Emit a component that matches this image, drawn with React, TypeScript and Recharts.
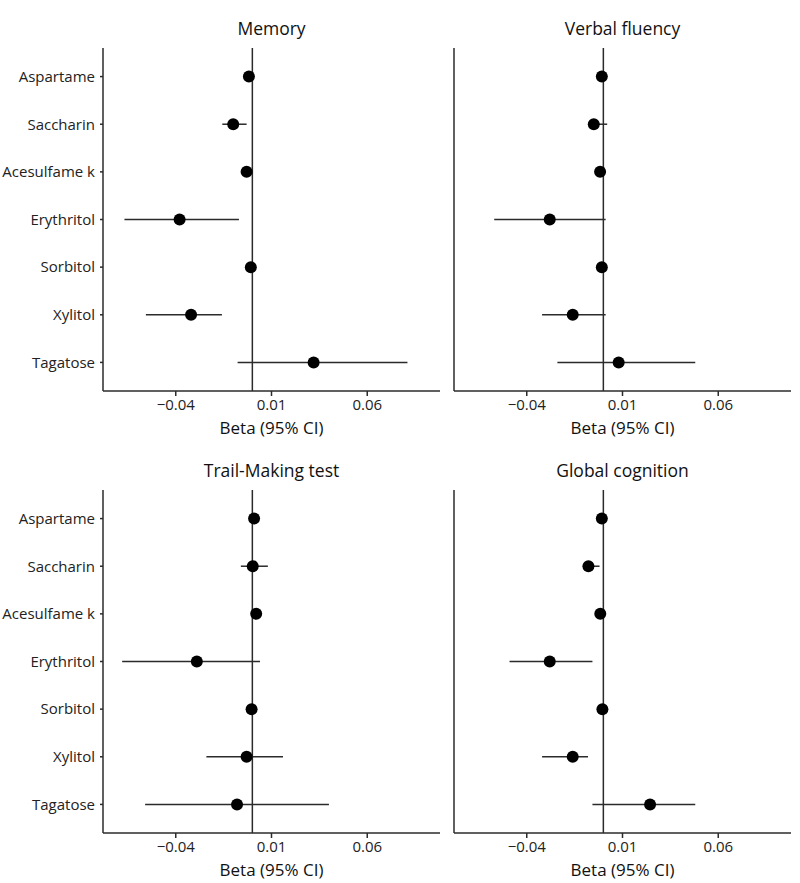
import {
  ComposedChart,
  Scatter,
  ErrorBar,
  XAxis,
  YAxis,
  ReferenceLine,
} from 'recharts';

const sweeteners = ['Aspartame', 'Saccharin', 'Acesulfame k', 'Erythritol', 'Sorbitol', 'Xylitol', 'Tagatose'];
const xTicks = [-0.04, 0.01, 0.06];

const memoryBeta = [-0.0018, -0.010, -0.003, -0.038, -0.0008, -0.032, 0.032];
const memoryLow = [-0.003, -0.0157, -0.0045, -0.0668, -0.002, -0.0556, -0.0077];
const memoryHigh = [-0.0006, -0.003, -0.0015, -0.007, 0.0004, -0.0159, 0.081];

const verbalBeta = [-0.0008, -0.005, -0.0017, -0.028, -0.0008, -0.016, 0.008];
const verbalLow = [-0.002, -0.008, -0.003, -0.057, -0.002, -0.032, -0.024];
const verbalHigh = [0.0004, 0.002, -0.0005, 0.0012, 0.0004, 0.0012, 0.048];

const trailBeta = [0.0009, 0.0002, 0.002, -0.029, -0.0004, -0.003, -0.008];
const trailLow = [-0.0005, -0.006, 0.0005, -0.068, -0.0017, -0.024, -0.056];
const trailHigh = [0.0023, 0.0081, 0.0035, 0.004, 0.001, 0.016, 0.04];

const globalBeta = [-0.0008, -0.0078, -0.0016, -0.028, -0.0005, -0.016, 0.0244];
const globalLow = [-0.002, -0.010, -0.003, -0.049, -0.0017, -0.032, -0.0057];
const globalHigh = [0.0004, -0.002, -0.0004, -0.0057, 0.0007, -0.008, 0.048];

const FONT = '"Open Sans", "Noto Sans", sans-serif';
const INK = '#2b2b2b';

function buildRows(beta: number[], low: number[], high: number[]) {
  return sweeteners.map((name, i) => ({
    name,
    pos: i + 1,
    beta: beta[i],
    err: [beta[i] - low[i], high[i] - beta[i]],
  }));
}

const fmt = (v: number) => (v < 0 ? '\u2212' + Math.abs(v).toFixed(2) : v.toFixed(2));

const Dot = (props: any) => <circle cx={props.cx} cy={props.cy} r={6} fill="#000" />;

function Panel({ title, rows, left, top, showLabels }: any) {
  const width = showLabels ? 450 : 350;
  const yWidth = showLabels ? 103 : 4;
  const right = showLabels ? 10 : 9;
  return (
    <div style={{ position: 'absolute', left, top, width, height: 441 }}>
      <div
        style={{
          position: 'absolute',
          left: yWidth,
          width: width - yWidth - right,
          top: 18,
          textAlign: 'center',
          fontFamily: FONT,
          fontSize: 17.5,
          color: '#111',
          lineHeight: '20px',
        }}
      >
        {title}
      </div>
      <ComposedChart
        width={width}
        height={441}
        data={rows}
        margin={{ top: 48, right, bottom: 0, left: 0 }}
      >
        <XAxis
          type="number"
          dataKey="beta"
          domain={[-0.078, 0.098]}
          ticks={xTicks}
          allowDataOverflow
          tickFormatter={fmt}
          height={50}
          tickSize={5}
          tickMargin={3}
          stroke={INK}
          strokeWidth={1.5}
          tick={{ fill: '#222', fontSize: 15, fontFamily: FONT }}
          label={{
            value: 'Beta (95% CI)',
            position: 'insideBottom',
            offset: 7,
            fill: '#111',
            fontSize: 17,
            fontFamily: FONT,
          }}
        />
        <YAxis
          type="number"
          dataKey="pos"
          domain={[0.4, 7.6]}
          ticks={[1, 2, 3, 4, 5, 6, 7]}
          reversed
          width={yWidth}
          stroke={INK}
          strokeWidth={1.5}
          tickSize={3}
          tickLine={showLabels}
          tickMargin={5}
          tickFormatter={(v: number) => sweeteners[v - 1]}
          tick={showLabels ? { fill: '#222', fontSize: 15, fontFamily: FONT } : false}
        />
        <ReferenceLine x={0} stroke={INK} strokeWidth={1.5} ifOverflow="hidden" />
        <Scatter dataKey="pos" shape={Dot} isAnimationActive={false}>
          <ErrorBar dataKey="err" direction="x" width={0} stroke={INK} strokeWidth={1.5} />
        </Scatter>
      </ComposedChart>
    </div>
  );
}

export default function App() {
  return (
    <div style={{ position: 'absolute', left: 0, top: 0, width: 800, height: 883, background: '#fff' }}>
      <Panel title="Memory" rows={buildRows(memoryBeta, memoryLow, memoryHigh)} left={0} top={0} showLabels />
      <Panel title="Verbal fluency" rows={buildRows(verbalBeta, verbalLow, verbalHigh)} left={450} top={0} showLabels={false} />
      <Panel title="Trail-Making test" rows={buildRows(trailBeta, trailLow, trailHigh)} left={0} top={442} showLabels />
      <Panel title="Global cognition" rows={buildRows(globalBeta, globalLow, globalHigh)} left={450} top={442} showLabels={false} />
    </div>
  );
}
